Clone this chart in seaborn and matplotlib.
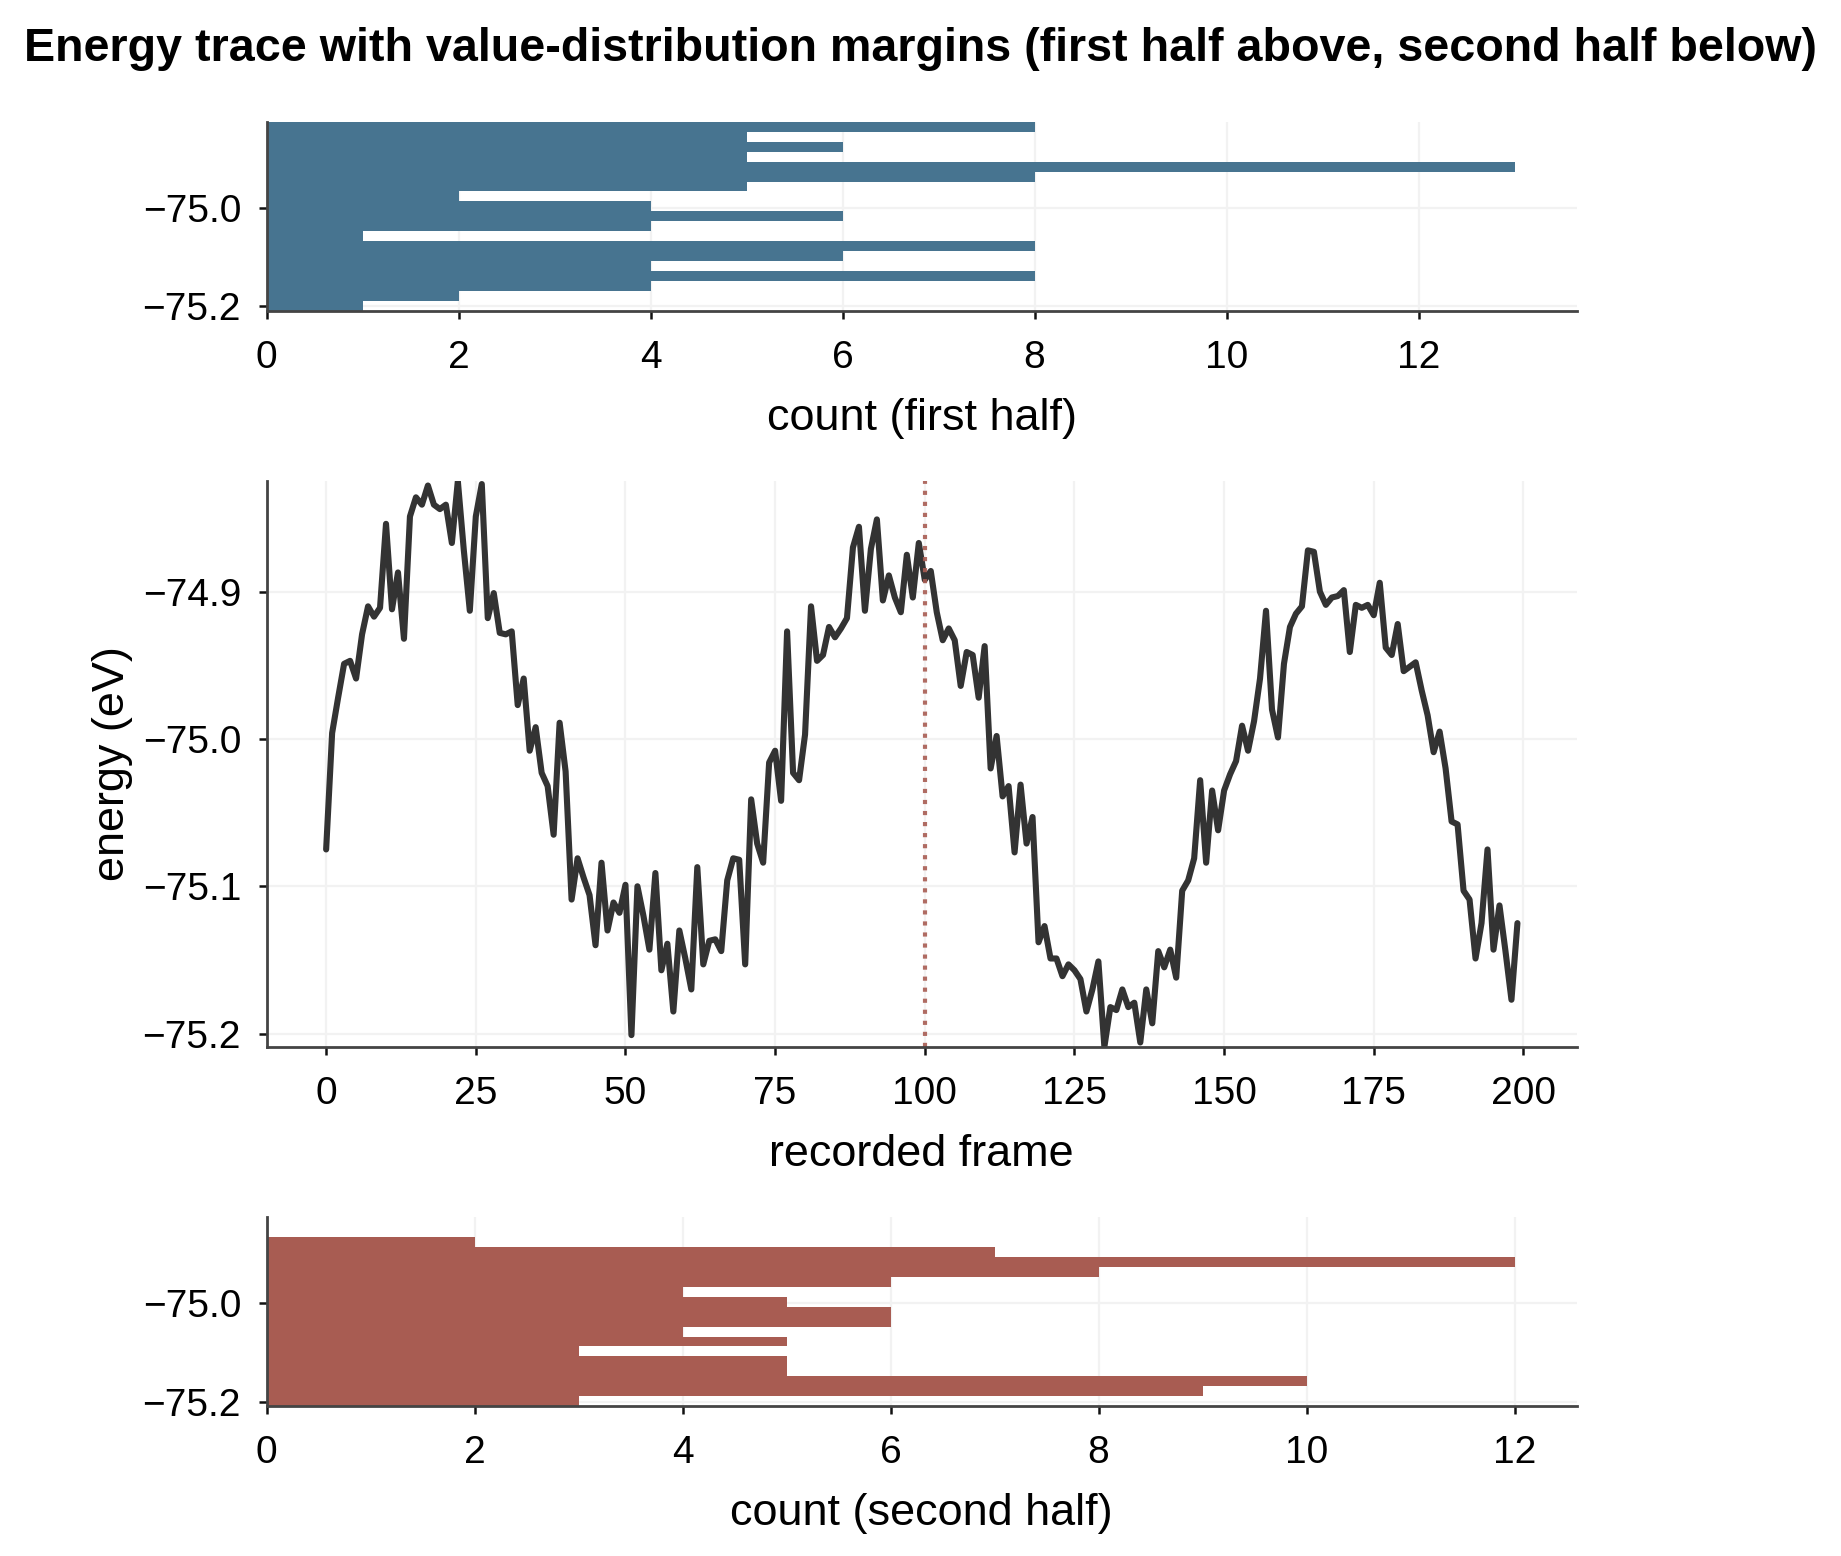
import numpy as np
import pandas as pd
import matplotlib
matplotlib.use("Agg")
import matplotlib.pyplot as plt
from matplotlib.ticker import MultipleLocator
import seaborn as sns

# energy per recorded frame (eV)
energy_first = [
    -75.075, -74.996, -74.972, -74.949, -74.947, -74.959, -74.929, -74.910, -74.917, -74.911,
    -74.854, -74.912, -74.887, -74.932, -74.849, -74.836, -74.841, -74.828, -74.841, -74.844,
    -74.841, -74.867, -74.825, -74.872, -74.913, -74.849, -74.827, -74.918, -74.901, -74.928,
    -74.929, -74.927, -74.977, -74.959, -75.008, -74.992, -75.023, -75.032, -75.065, -74.989,
    -75.022, -75.109, -75.081, -75.094, -75.106, -75.140, -75.084, -75.130, -75.111, -75.118,
    -75.099, -75.201, -75.100, -75.120, -75.143, -75.091, -75.157, -75.139, -75.185, -75.130,
    -75.149, -75.170, -75.087, -75.153, -75.137, -75.136, -75.144, -75.096, -75.081, -75.082,
    -75.153, -75.041, -75.071, -75.084, -75.016, -75.008, -75.042, -74.927, -75.023, -75.028,
    -74.997, -74.910, -74.947, -74.943, -74.924, -74.931, -74.925, -74.918, -74.870, -74.856,
    -74.913, -74.871, -74.851, -74.906, -74.889, -74.904, -74.914, -74.875, -74.904, -74.867,
]
energy_second = [
    -74.892, -74.886, -74.914, -74.933, -74.925, -74.933, -74.964, -74.941, -74.943, -74.972,
    -74.937, -75.020, -74.998, -75.039, -75.032, -75.077, -75.031, -75.071, -75.053, -75.138,
    -75.127, -75.149, -75.149, -75.161, -75.153, -75.157, -75.163, -75.185, -75.170, -75.151,
    -75.209, -75.182, -75.184, -75.170, -75.182, -75.179, -75.206, -75.170, -75.193, -75.144,
    -75.155, -75.143, -75.162, -75.103, -75.096, -75.081, -75.028, -75.084, -75.035, -75.062,
    -75.035, -75.024, -75.015, -74.991, -75.008, -74.988, -74.959, -74.913, -74.980, -74.999,
    -74.949, -74.924, -74.915, -74.910, -74.872, -74.873, -74.900, -74.909, -74.904, -74.903,
    -74.899, -74.941, -74.909, -74.911, -74.909, -74.916, -74.894, -74.938, -74.943, -74.922,
    -74.954, -74.951, -74.948, -74.967, -74.984, -75.009, -74.995, -75.020, -75.056, -75.058,
    -75.103, -75.109, -75.149, -75.125, -75.075, -75.143, -75.113, -75.144, -75.177, -75.125,
]

energy = np.array(energy_first + energy_second)
frames = np.arange(len(energy))
split = len(energy_first)

blue = "#477490"
red = "#a85c52"

sns.set_theme(style="whitegrid", rc={
    "axes.edgecolor": "#444444",
    "axes.linewidth": 1.0,
    "grid.color": "#f2f2f2",
    "grid.linewidth": 0.8,
    "xtick.bottom": True,
    "ytick.left": True,
    "xtick.major.size": 3,
    "ytick.major.size": 3,
    "xtick.major.width": 0.9,
    "ytick.major.width": 0.9,
    "xtick.major.pad": 7.5,
    "ytick.major.pad": 6.2,
    "xtick.color": "#111111",
    "ytick.color": "#111111",
    "xtick.labelcolor": "black",
    "ytick.labelcolor": "black",
    "text.color": "black",
    "axes.labelcolor": "black",
})
plt.rcParams["font.family"] = ["Liberation Sans", "DejaVu Sans"]

fig = plt.figure(figsize=(9.205, 7.78), dpi=200)
gs = fig.add_gridspec(3, 1, height_ratios=[1, 3, 1], left=0.1448, right=0.8566,
                      top=0.9216, bottom=0.0964, hspace=0.5425)
ax_top = fig.add_subplot(gs[0])
ax_mid = fig.add_subplot(gs[1])
ax_bot = fig.add_subplot(gs[2])

# shared bins over the full value range
edges = np.linspace(energy.min(), energy.max(), 20)
ylim = (energy.min(), energy.max())

tick_fs = 14
label_fs = 16.2

# top margin: first half distribution
sns.histplot(y=energy[:split], bins=edges, color=blue, alpha=1, linewidth=0, ax=ax_top)
ax_top.set_xlabel("count (first half)", fontsize=label_fs, labelpad=8)
ax_top.set_ylabel("")
ax_top.xaxis.set_major_locator(MultipleLocator(2))
ax_top.yaxis.set_major_locator(MultipleLocator(0.2))

# trace
sns.lineplot(x=frames, y=energy, color="#333333", linewidth=2.2, ax=ax_mid)
ax_mid.axvline(split, color=red, linestyle=":", linewidth=1.5, alpha=0.9)
ax_mid.set_xlabel("recorded frame", fontsize=label_fs, labelpad=8)
ax_mid.set_ylabel("energy (eV)", fontsize=label_fs, labelpad=3.4)
ax_mid.xaxis.set_major_locator(MultipleLocator(25))
ax_mid.yaxis.set_major_locator(MultipleLocator(0.1))

# bottom margin: second half distribution
sns.histplot(y=energy[split:], bins=edges, color=red, alpha=1, linewidth=0, ax=ax_bot)
ax_bot.set_xlabel("count (second half)", fontsize=label_fs, labelpad=8)
ax_bot.set_ylabel("")
ax_bot.xaxis.set_major_locator(MultipleLocator(2))
ax_bot.yaxis.set_major_locator(MultipleLocator(0.2))

for ax in (ax_top, ax_mid, ax_bot):
    ax.set_ylim(*ylim)
    ax.tick_params(labelsize=tick_fs)
    sns.despine(ax=ax)

fig.suptitle("Energy trace with value-distribution margins (first half above, second half below)",
             fontsize=16.8, fontweight="bold", y=0.9685, va="center")

fig.savefig("out.png", dpi=200)
